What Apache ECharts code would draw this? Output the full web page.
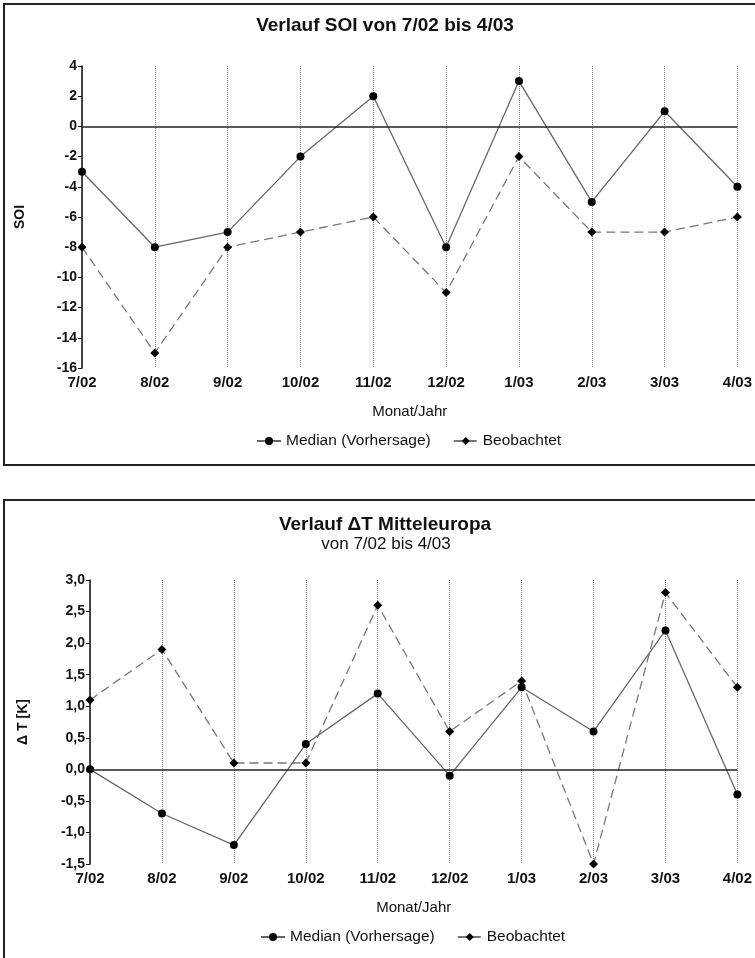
<!DOCTYPE html>
<html>
<head>
<meta charset="utf-8">
<script src="https://cdn.jsdelivr.net/npm/echarts@6/dist/echarts.min.js"></script>
<style>
html,body{margin:0;padding:0;background:#fff;}
#chart{width:755px;height:958px;}
</style>
</head>
<body>
<div id="chart"></div>
<script>
const categoriesSOI = ['7/02','8/02','9/02','10/02','11/02','12/02','1/03','2/03','3/03','4/03'];
const soiMedian = [-3, -8, -7, -2, 2, -8, 3, -5, 1, -4];
const soiObserved = [-8, -15, -8, -7, -6, -11, -2, -7, -7, -6];

const categoriesT = ['7/02','8/02','9/02','10/02','11/02','12/02','1/03','2/03','3/03','4/02'];
const tMedian = [0.0, -0.7, -1.2, 0.4, 1.2, -0.1, 1.3, 0.6, 2.2, -0.4];
const tObserved = [1.1, 1.9, 0.1, 0.1, 2.6, 0.6, 1.4, -1.5, 2.8, 1.3];

const nameMedian = 'Median (Vorhersage)';
const nameObserved = 'Beobachtet';

const FONT = "'Liberation Sans', Arial, sans-serif";

const chart = echarts.init(document.getElementById('chart'), null, {renderer: 'canvas'});

function xAxis(cats, gridIndex) {
  return {
    type: 'category', gridIndex: gridIndex, data: cats, boundaryGap: false,
    axisLine: {show: false},
    axisTick: {show: false},
    axisLabel: {color: '#111', fontFamily: FONT, fontSize: 15, fontWeight: 'bold', margin: 7},
    splitLine: {show: true, lineStyle: {type: 'dotted', color: '#888', width: 1}},
    name: 'Monat/Jahr', nameLocation: 'middle', nameGap: 36,
    nameTextStyle: {color: '#111', fontFamily: FONT, fontSize: 15}
  };
}
function yAxis(gridIndex, min, max, interval, name, fmt, gap) {
  return {
    type: 'value', gridIndex: gridIndex, min: min, max: max, interval: interval,
    axisLine: {show: true, lineStyle: {color: '#111', width: 1.5}},
    axisTick: {show: true, length: 4, lineStyle: {color: '#111'}},
    axisLabel: {color: '#111', fontFamily: FONT, fontSize: 14, fontWeight: 'bold', margin: 5, formatter: fmt},
    splitLine: {show: false},
    name: name, nameLocation: 'middle', nameGap: gap, nameRotate: 90,
    nameTextStyle: {color: '#111', fontFamily: FONT, fontSize: 14, fontWeight: 'bold'}
  };
}
const zeroLine = {
  silent: true, symbol: ['none','none'],
  lineStyle: {type: 'solid', color: '#222', width: 1.5},
  label: {show: false},
  data: [{yAxis: 0}]
};
function medianSeries(data, idx) {
  return {
    name: nameMedian, type: 'line', data: data, xAxisIndex: idx, yAxisIndex: idx,
    symbol: 'circle', symbolSize: 8,
    lineStyle: {color: '#666', width: 1.3, type: 'solid'},
    itemStyle: {color: '#000'},
    markLine: zeroLine, z: 3
  };
}
function observedSeries(data, idx) {
  return {
    name: nameObserved, type: 'line', data: data, xAxisIndex: idx, yAxisIndex: idx,
    symbol: 'diamond', symbolSize: 9,
    lineStyle: {color: '#777', width: 1.3, type: [9, 5]},
    itemStyle: {color: '#000'}, z: 2
  };
}
const legendBase = {
  data: [nameMedian, nameObserved], itemWidth: 24, itemHeight: 10, itemGap: 22,
  textStyle: {color: '#111', fontFamily: FONT, fontSize: 15.5}, selectedMode: false
};

chart.setOption({
  animation: false,
  backgroundColor: '#fff',
  title: [
    {text: 'Verlauf SOI von 7/02 bis 4/03', left: 380, textAlign: 'center', top: 11,
     textStyle: {fontFamily: FONT, fontSize: 19, fontWeight: 'bold', color: '#111'}},
    {text: 'Verlauf \u0394T Mitteleuropa', left: 380, textAlign: 'center', top: 510,
     textStyle: {fontFamily: FONT, fontSize: 19, fontWeight: 'bold', color: '#111'}},
    {text: 'von 7/02 bis 4/03', left: 381, textAlign: 'center', top: 531,
     textStyle: {fontFamily: FONT, fontSize: 17, fontWeight: 'normal', color: '#111'}}
  ],
  legend: [
    Object.assign({top: 428, left: 251}, legendBase),
    Object.assign({top: 924, left: 255}, legendBase)
  ],
  grid: [
    {left: 82, top: 66, width: 657, height: 302},
    {left: 90, top: 580, width: 650, height: 284}
  ],
  xAxis: [xAxis(categoriesSOI, 0), xAxis(categoriesT, 1)],
  yAxis: [
    yAxis(0, -16, 4, 2, 'SOI', v => String(v), 55),
    yAxis(1, -1.5, 3.0, 0.5, '\u0394 T [K]', v => v.toFixed(1).replace('.', ','), 60)
  ],
  series: [
    medianSeries(soiMedian, 0), observedSeries(soiObserved, 0),
    medianSeries(tMedian, 1), observedSeries(tObserved, 1)
  ],
  graphic: [
    {type: 'rect', shape: {x: 4, y: 4, width: 780, height: 461}, style: {fill: 'none', stroke: '#222', lineWidth: 2}, silent: true},
    {type: 'rect', shape: {x: 4, y: 500, width: 780, height: 500}, style: {fill: 'none', stroke: '#222', lineWidth: 2}, silent: true}
  ]
});
</script>
</body>
</html>
